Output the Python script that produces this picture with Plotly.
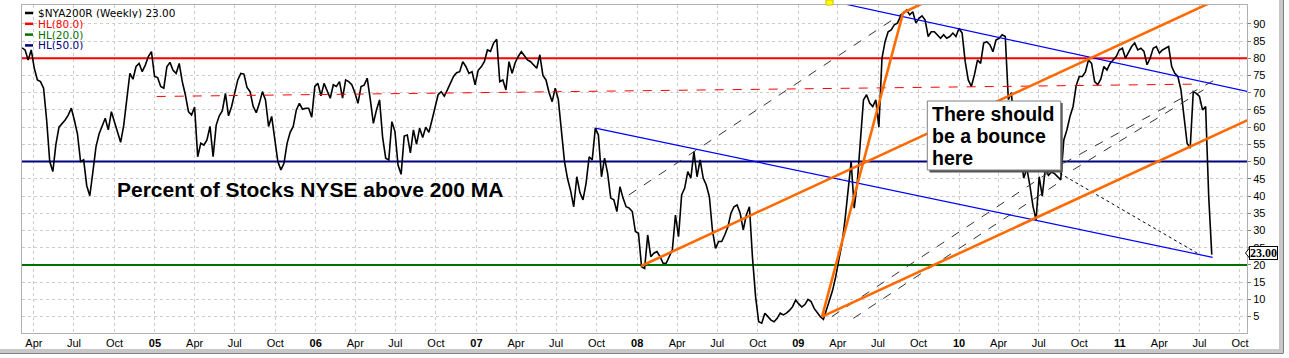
import pandas as pd
import plotly.graph_objects as go

# ---------------- data ----------------
start_week = "2004-03-05"          # first weekly bar
nya200r = [
    83, 82.4, 79.5, 82.4, 77, 73.7, 73.2, 71.3, 62, 50,
    47.1, 55, 60, 61, 62.1, 63.5, 65.5, 62, 58, 50,
    50.5, 43, 40.1, 47, 54.3, 58, 60.2, 62.6, 59.2, 64.5,
    61.5, 58.5, 55.6, 60.5, 69, 75.6, 73.9, 77.6, 78.5, 76.1,
    78, 80.5, 81.9, 74.7, 74.4, 71.8, 71.3, 77.5, 78.8, 76.5,
    75.6, 78.5, 73.2, 69.4, 64.5, 63.5, 65.8, 51.4, 55.3, 54.8,
    56.3, 60.2, 51.4, 60.6, 63.3, 64.8, 69.8, 63.3, 66, 70.3,
    73.7, 75.6, 75.4, 71.5, 70.3, 66, 64.2, 66.9, 70.3, 67.9,
    60.2, 63.1, 57, 50, 47.6, 49.5, 55.3, 58.5, 60.2, 65,
    66.9, 65.2, 65.5, 65.5, 62.9, 71.8, 72.7, 69.1, 72.7, 70.8,
    68.4, 72.3, 71.8, 73.2, 68.4, 73.7, 73.2, 72.3, 70, 66.9,
    71.8, 72.2, 74.2, 68, 61.1, 65, 67.9, 57, 51, 50.5,
    61.6, 58.7, 49, 46.3, 57.4, 57.7, 52.5, 59.2, 55, 59.7,
    57, 60, 58.5, 62, 66, 69.4, 70.3, 69, 70.8, 72.7,
    74.7, 75.8, 76.1, 79, 77.6, 75.6, 76.1, 72.3, 76.5, 77.5,
    79, 82.4, 82, 84.4, 85.5, 73.2, 73.7, 70.8, 79, 75.6,
    78.7, 80.5, 81.9, 80.7, 79.5, 79, 78, 77.1, 81, 75,
    73.7, 70, 67.4, 71.3, 68, 59.2, 50, 45, 41.5, 36.9,
    45.6, 41, 38.9, 43.7, 51.4, 50.5, 59.7, 57.7, 45.6, 51,
    46.6, 39.4, 38.9, 35.5, 42.7, 39.4, 36.9, 36.5, 35.5, 29.7,
    29.2, 19.5, 19, 28.7, 22.4, 23.4, 23.9, 22.4, 20.5, 20.5,
    22.4, 24.4, 34.5, 28.2, 40.3, 42.3, 47.1, 45.2, 52.9, 45.6,
    50.5, 45.2, 43.2, 39.8, 30, 24.8, 26.8, 26.8, 28.7, 31,
    35, 36.9, 37.4, 35, 30.2, 34.5, 36.9, 22, 10.8, 3.5,
    3.1, 6, 5, 4, 3.5, 4.5, 6, 5.5, 6, 6.8,
    7.9, 9.8, 8.7, 7.8, 8.5, 10, 9.4, 7.4, 6.2, 5,
    4.2, 7.4, 9.8, 12.7, 16.6, 21.5, 26, 33, 42, 50,
    36.5, 44, 56, 67.9, 69.4, 67, 66, 67.9, 60, 80,
    84.8, 87.7, 88.2, 89.7, 90.2, 92.1, 93.1, 94, 92.6, 93.5,
    90.2, 91.6, 92.3, 91.1, 86.3, 87.7, 87.7, 86.8, 85.8, 86.8,
    85.8, 86.3, 87.3, 86.3, 88.7, 87.3, 79, 73.7, 71.8, 75.2,
    79.5, 78.5, 84.4, 84.8, 83.9, 81.9, 85.3, 85.8, 86.8, 86.3,
    68, 70, 58, 62, 52, 45.2, 48, 43, 37, 33.1,
    45.6, 40, 48, 46, 47, 46.5, 45.5, 44.7, 56.3, 59.2,
    63.1, 66, 72, 74.7, 74.7, 76, 79.5, 78.5, 73.2, 72.3,
    74, 77.6, 76.6, 78.5, 79.5, 80.5, 82.4, 82.9, 80, 81.9,
    83.4, 84.4, 82.4, 82.9, 82, 78.1, 80, 82.9, 83.4, 81.5,
    82.4, 82.9, 83.4, 77.6, 75.6, 74.7, 70.8, 63, 55.3, 53.9,
    70.3, 69.8, 68.9, 65, 66, 40, 23,
]
last_value = 23.00

hl_levels = [80.0, 20.0, 50.0]
hl_names = ["HL(80.0)", "HL(20.0)", "HL(50.0)"]

# trend lines drawn on the chart: ((date, value), (date, value))
orange_lines = [
    (("2008-01-10", 19.7), ("2011-08-09", 96.95)),
    (("2009-02-24", 5.0), ("2011-12-31", 66.4)),
    (("2009-02-24", 5.0), ("2009-08-27", 93.2)),
    (("2009-08-27", 93.2), ("2009-10-27", 96.95)),
]
blue_lines = [
    (("2009-03-22", 96.45), ("2011-12-31", 68.3)),
    (("2007-09-28", 59.7), ("2011-07-31", 22.2)),
]
black_dashed_lines = [
    (("2007-12-13", 40.3), ("2009-08-27", 93.2)),
    (("2009-03-18", 5.0), ("2010-08-18", 49.0)),
    (("2009-05-06", 4.5), ("2010-08-25", 44.7)),
    (("2010-08-26", 49.5), ("2011-08-02", 73.5)),
    (("2010-09-17", 47.6), ("2011-07-10", 70.8)),
]
black_dotted_lines = [
    (("2010-08-18", 46.6), ("2011-07-03", 22.9)),
]
red_dashed_lines = [
    (("2005-01-05", 68.9), ("2011-07-03", 72.5)),
]

x_range = ["2004-03-05", "2011-10-17"]
y_range = [0.25, 95.45]
y_ticks = list(range(5, 95, 5))
tick_dates = pd.date_range("2004-04-01", "2011-10-01", freq="QS-JAN")
tick_text = [f"<b>{d:%y}</b>" if d.month == 1 else f"{d:%b}" for d in tick_dates]

title_text = "Percent of Stocks NYSE above 200 MA"
box_lines = ["There should", "be a bounce", "here"]

# ---------------- figure ----------------
W, H = 1289, 358
L, R, T, B = 22, 42, 5, 25
PW, PH = W - L - R, H - T - B


def px(x):
    return (x - L) / PW


def py(y):
    return (H - B - y) / PH


dates = pd.date_range(start=start_week, periods=len(nya200r), freq="7D")

fig = go.Figure()

# horizontal levels (drawn under the data line)
hl_colors = ["#ff0000", "#007000", "#000080"]
for lvl, col in zip(hl_levels, hl_colors):
    fig.add_trace(go.Scatter(x=x_range, y=[lvl, lvl], mode="lines", hoverinfo="skip",
                             line=dict(color=col, width=2)))

fig.add_trace(go.Scatter(x=dates, y=nya200r, mode="lines",
                         line=dict(color="black", width=1.6), hoverinfo="skip"))


def seg_trace(segs, color, width, dash):
    xs, ys = [], []
    for (d0, v0), (d1, v1) in segs:
        xs += [d0, d1, None]
        ys += [v0, v1, None]
    return go.Scatter(x=xs, y=ys, mode="lines", hoverinfo="skip",
                      line=dict(color=color, width=width, dash=dash))


fig.add_trace(seg_trace(red_dashed_lines, "#ff0000", 1, "dash"))
fig.add_trace(seg_trace(black_dashed_lines, "#333333", 1, "dash"))
fig.add_trace(seg_trace(black_dotted_lines, "#000000", 1, "dot"))
fig.add_trace(seg_trace(blue_lines, "#0000ff", 1.2, "solid"))
fig.add_trace(seg_trace(orange_lines, "#ff6a00", 2.6, "solid"))

annotations = []
# legend rows: short coloured dash + label
leg_font = dict(family="DejaVu Sans, Verdana, sans-serif", size=10.5)
legend_rows = [("$NYA200R (Weekly) %.2f" % last_value, "black")] + \
    list(zip(hl_names, hl_colors))
for k, (txt, col) in enumerate(legend_rows):
    yy = 13 + k * 10.8
    fig.add_shape(type="line", xref="paper", yref="paper", x0=px(25), x1=px(33),
                  y0=py(yy), y1=py(yy), line=dict(color=col, width=2.5), layer="above")
    annotations.append(dict(xref="paper", yref="paper", x=px(36), y=py(yy),
                            xanchor="left", yanchor="middle", showarrow=False,
                            text=txt, height=10, font=dict(color=col, **leg_font)))

# big title text
annotations.append(dict(xref="paper", yref="paper", x=px(115), y=py(190),
                        xanchor="left", yanchor="middle", showarrow=False,
                        text=f"<b>{title_text}</b>",
                        font=dict(family="Liberation Sans, Arial, sans-serif", size=21, color="black")))

# callout box
fig.add_shape(type="rect", xref="paper", yref="paper",
              x0=px(929.5), x1=px(1062.7), y0=py(172.5), y1=py(103),
              fillcolor="#555555", line=dict(width=0), layer="above")
fig.add_shape(type="rect", xref="paper", yref="paper",
              x0=px(927.3), x1=px(1060.7), y0=py(170), y1=py(101),
              fillcolor="white", line=dict(color="#808080", width=1), layer="above")
for k, txt in enumerate(box_lines):
    annotations.append(dict(xref="paper", yref="paper", x=px(930), y=py(113.5 + 22 * k),
                            xanchor="left", yanchor="middle", showarrow=False,
                            text=f"<b>{txt}</b>", height=22,
                            font=dict(family="Liberation Sans, Arial, sans-serif", size=19.5, color="black")))

# last value tag
fig.add_shape(type="path", xref="paper", yref="paper",
              path=f"M {px(1245.5)} {py(253)} L {px(1249.5)} {py(248)} L {px(1249.5)} {py(258)} Z",
              fillcolor="white", line=dict(color="black", width=1), layer="above")
annotations.append(dict(xref="paper", yref="paper", x=px(1249), y=py(253),
                        xanchor="left", yanchor="middle", showarrow=False,
                        text="<b>%.2f</b>" % last_value, bgcolor="white", height=12,
                        bordercolor="black", borderwidth=1, borderpad=0,
                        font=dict(family="Liberation Serif, Times New Roman, serif", size=12, color="black")))

# yellow anchor square and window frame
fig.add_shape(type="rect", xref="paper", yref="paper", x0=px(826), x1=px(833), y0=py(5), y1=py(0),
              fillcolor="#ffff00", line=dict(color="#d0c000", width=1), layer="above")
fig.add_shape(type="rect", xref="paper", yref="paper", x0=px(1279), x1=px(1283), y0=py(351), y1=py(0),
              fillcolor="#c8c8c8", line=dict(width=0), layer="above")
fig.add_shape(type="line", xref="paper", yref="paper", x0=px(1283.5), x1=px(1283.5), y0=py(353), y1=py(0),
              line=dict(color="#808080", width=1), layer="above")
fig.add_shape(type="rect", xref="paper", yref="paper", x0=px(0), x1=px(1283), y0=py(353), y1=py(349),
              fillcolor="#c8c8c8", line=dict(width=0), layer="above")
fig.add_shape(type="line", xref="paper", yref="paper", x0=px(0), x1=px(1283.5), y0=py(353.5), y1=py(353.5),
              line=dict(color="#808080", width=1), layer="above")

fig.update_layout(
    width=W, height=H,
    margin=dict(l=L, r=R, t=T, b=B, pad=0),
    paper_bgcolor="white", plot_bgcolor="white",
    showlegend=False,
    annotations=annotations,
    xaxis=dict(type="date", range=x_range, tickvals=list(tick_dates), ticktext=tick_text,
               showgrid=True, gridcolor="#cccccc", griddash="dot", gridwidth=1,
               showline=True, linecolor="#b0b0b0", mirror=True, ticks="", zeroline=False,
               tickfont=dict(family="Liberation Sans Narrow, Arial Narrow, Liberation Sans, Arial",
                             size=11, color="black")),
    yaxis=dict(range=y_range, side="right", tickvals=y_ticks,
               showgrid=True, gridcolor="#cccccc", griddash="dot", gridwidth=1,
               showline=True, linecolor="#b0b0b0", mirror=True, zeroline=False,
               ticks="outside", ticklen=3, tickcolor="#808080",
               tickfont=dict(family="Liberation Sans, Arial", size=11, color="black")),
)

fig.write_html("out.html", config={"displayModeBar": False},
               post_script="document.body.style.margin='0px';document.body.style.overflow='hidden';")
